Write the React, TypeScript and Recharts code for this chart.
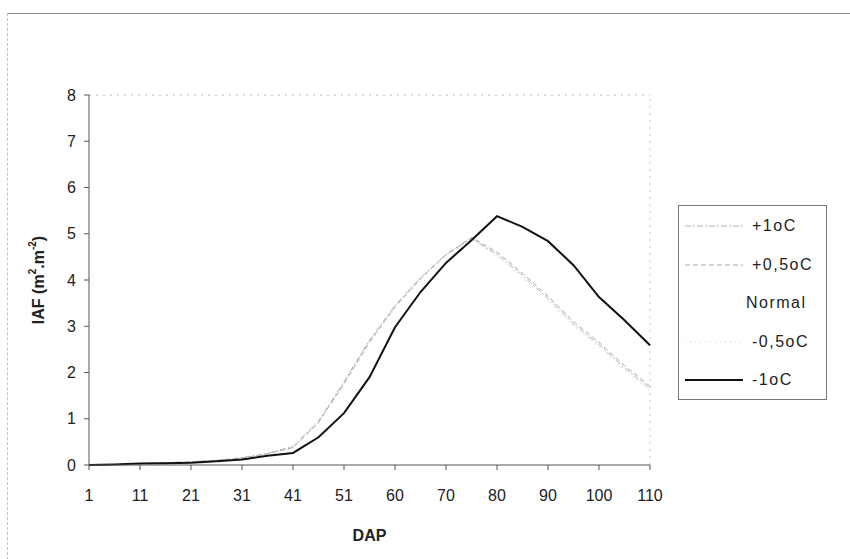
import React from 'react';
import { LineChart, Line, XAxis, YAxis, ReferenceLine } from 'recharts';

// DAP categories (equal spacing on the axis, as in the original sheet)
const dap = [1, 6, 11, 16, 21, 26, 31, 36, 41, 46, 51, 56, 60, 65, 70, 75, 80, 85, 90, 95, 100, 105, 110];

// IAF per scenario
const plus1 = [0, 0.01, 0.03, 0.05, 0.07, 0.1, 0.16, 0.25, 0.4, 0.95, 1.8, 2.7, 3.45, 4.05, 4.55, 4.9, 4.55, 4.1, 3.6, 3.05, 2.6, 2.1, 1.65];
const plus05 = [0, 0.01, 0.03, 0.05, 0.07, 0.1, 0.15, 0.24, 0.38, 0.92, 1.76, 2.66, 3.42, 4.03, 4.55, 4.92, 4.6, 4.15, 3.65, 3.1, 2.65, 2.15, 1.7];
const normal = [0, 0.01, 0.03, 0.04, 0.06, 0.09, 0.14, 0.22, 0.33, 0.8, 1.5, 2.35, 3.2, 3.9, 4.45, 4.9, 4.9, 4.6, 4.2, 3.6, 3.1, 2.6, 2.1];
const minus05 = [0, 0.01, 0.03, 0.05, 0.07, 0.1, 0.15, 0.23, 0.36, 0.9, 1.72, 2.62, 3.4, 4.0, 4.52, 4.88, 4.5, 4.05, 3.55, 3.0, 2.55, 2.05, 1.6];
const minus1 = [0, 0.01, 0.03, 0.04, 0.05, 0.08, 0.12, 0.2, 0.26, 0.6, 1.12, 1.9, 2.98, 3.74, 4.37, 4.86, 5.38, 5.15, 4.84, 4.32, 3.63, 3.13, 2.59];

const yTicks = [0, 1, 2, 3, 4, 5, 6, 7, 8];

const data = dap.map((d, i) => ({
  dap: d,
  plus1: plus1[i],
  plus05: plus05[i],
  normal: normal[i],
  minus05: minus05[i],
  minus1: minus1[i],
}));

const series = [
  { key: 'normal', name: 'Normal', color: '#ffffff', dash: undefined, width: 1 },
  { key: 'plus1', name: '+1oC', color: '#b4b4b4', dash: '6 2 2 2', width: 1 },
  { key: 'plus05', name: '+0,5oC', color: '#a6a6a6', dash: '5 3', width: 1 },
  { key: 'minus05', name: '-0,5oC', color: '#cfcfcf', dash: '1 4', width: 1 },
  { key: 'minus1', name: '-1oC', color: '#111111', dash: undefined, width: 2 },
];

const legendOrder = ['plus1', 'plus05', 'normal', 'minus05', 'minus1'];

const font = '"Liberation Sans", Arial, sans-serif';

// legend drawn as a plain box beside the plot, like the Excel one
const LegendBox = () => (
  <div
    style={{
      position: 'absolute',
      left: 678,
      top: 205,
      width: 147,
      height: 193,
      border: '1px solid #777',
      background: '#fff',
      fontFamily: font,
      fontSize: 16,
      letterSpacing: 1.5,
      color: '#222',
    }}
  >
    {legendOrder.map((k, i) => {
      const s = series.find((x) => x.key === k)!;
      return (
        <div key={s.key} style={{ position: 'absolute', top: 9 + i * 38.5, left: 6, height: 22, display: 'flex', alignItems: 'center' }}>
          <svg width={58} height={6}>
            <line x1={0} y1={3} x2={58} y2={3} stroke={s.color} strokeWidth={s.width} strokeDasharray={s.dash} />
          </svg>
          <span style={{ marginLeft: s.key === 'normal' ? 3 : 9 }}>{s.name}</span>
        </div>
      );
    })}
  </div>
);

const YLabel = () => (
  <text x={38} y={280} transform="rotate(-90 38 280)" textAnchor="middle" dominantBaseline="central"
    fontFamily={font} fontSize={16} fontWeight="bold" fill="#222">
    IAF (m<tspan dy={-6} fontSize={10}>2</tspan><tspan dy={6}>.m</tspan><tspan dy={-6} fontSize={10}>-2</tspan><tspan dy={6}>)</tspan>
  </text>
);

export default function App() {
  return (
    <div style={{ position: 'fixed', top: 0, left: 0, width: 850, height: 559, background: '#fff', overflow: 'hidden' }}>
      <div style={{ position: 'absolute', top: 13, left: 7, width: 843, height: 546, borderTop: '1px solid #8a8a8a', borderLeft: '1px dashed #c4c4c4' }} />
      <div style={{ position: 'absolute', top: 0, left: 0 }}>
        <LineChart width={850} height={559} data={data} margin={{ top: 95, right: 200, bottom: 64, left: 49 }}>
          <ReferenceLine y={8} stroke="#bdbdbd" strokeDasharray="2 5" />
          <ReferenceLine x={110} stroke="#c8c8c8" strokeDasharray="2 5" />
          <XAxis
            dataKey="dap"
            interval={1}
            height={30}
            stroke="#555"
            tickSize={5}
            tickMargin={20}
            tick={{ fontFamily: font, fontSize: 16, fill: '#222' }}
            label={{ value: 'DAP', position: 'insideBottom', offset: -46, fontFamily: font, fontSize: 16, fontWeight: 'bold', fill: '#222' }}
          />
          <YAxis
            width={40}
            domain={[0, 8]}
            ticks={yTicks}
            stroke="#555"
            tickSize={5}
            tickMargin={8}
            tick={{ fontFamily: font, fontSize: 16, fill: '#222' }}
            label={{ content: () => <YLabel /> }}
          />
          {series.map((s) => (
            <Line
              key={s.key}
              type="linear"
              dataKey={s.key}
              name={s.name}
              stroke={s.color}
              strokeWidth={s.width}
              strokeDasharray={s.dash}
              dot={false}
              isAnimationActive={false}
            />
          ))}
        </LineChart>
      </div>
      <LegendBox />
    </div>
  );
}
